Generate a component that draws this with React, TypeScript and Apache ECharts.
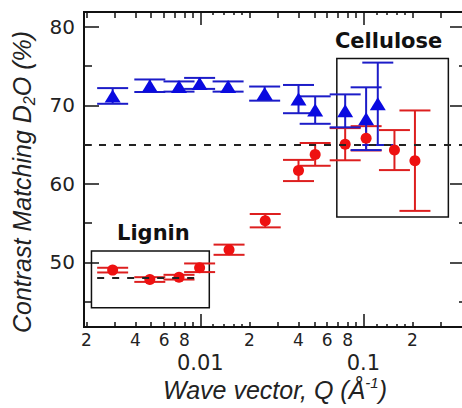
import React, { useEffect, useRef } from "react";
import * as echarts from "echarts";

// ---- data ----
const Q_BLUE = [0.0029, 0.0049, 0.0074, 0.0099, 0.0148, 0.0248, 0.04, 0.0506, 0.0773, 0.1039, 0.1225];
const BLUE_VAL = [71.2, 72.5, 72.4, 72.8, 72.4, 71.5, 70.8, 69.4, 69.3, 68.3, 70.2];
const BLUE_ERR = [1.0, 0.8, 0.65, 0.7, 0.65, 0.9, 1.8, 1.75, 2.1, 4.0, 5.25];

const Q_RED = [0.0029, 0.0049, 0.0074, 0.0099, 0.015, 0.025, 0.04, 0.0506, 0.0773, 0.1039, 0.155, 0.207];
const RED_VAL = [49.0, 47.8, 48.1, 49.3, 51.6, 55.3, 61.7, 63.75, 65.05, 65.8, 64.3, 62.95];
const RED_ERR = [0.3, 0.3, 0.3, 0.55, 0.65, 0.85, 1.35, 1.45, 2.05, 1.55, 2.55, 6.4];

// ---- axis ticks / labels ----
const X_TICKS_NORMAL = [0.002, 0.003, 0.004, 0.005, 0.006, 0.007, 0.008, 0.009, 0.02, 0.03, 0.04, 0.05, 0.06, 0.07, 0.08, 0.09, 0.2, 0.3];
const X_TICKS_SMALL = [0.012, 0.014, 0.016, 0.018, 0.12, 0.14, 0.16, 0.18];
const X_TICKS_MAJOR = [0.01, 0.1];
const X_LABELS_MINOR = [0.002, 0.004, 0.006, 0.008, 0.02, 0.04, 0.06, 0.08, 0.2];
const X_LABELS_MAJOR = [0.01, 0.1];
const Y_MAJOR = [50, 60, 70, 80];
const Y_MINOR = [45, 55, 65, 75];

const X_MIN_Q = 0.001935;
const X_MAX_Q = 0.4197;
const Y_MIN = 41.75;
const Y_MAX = 81.9;

// annotations
const MATCH_LINE = 65;
const LIGNIN_LINE = { q0: 0.00233, q1: 0.00972, y: 48 };
const LIGNIN_BOX = { q0: 0.00215, q1: 0.01135, y0: 44.2, y1: 51.45 };
const CELL_BOX = { q0: 0.0687, q1: 0.3318, y0: 55.77, y1: 75.97 };

const lg = (q: number) => Math.log10(q);
const INK = "#111";

function xAxis(position: string, ticks: number[], len: number, labels?: number[], fmt?: (v: number) => string, margin?: number, fontSize?: number) {
  return {
    type: "value",
    position,
    min: lg(X_MIN_Q),
    max: lg(X_MAX_Q),
    axisLine: { show: true, onZero: false, lineStyle: { color: INK, width: 2 } },
    axisTick: { show: true, inside: true, length: len, customValues: ticks.map(lg), lineStyle: { color: INK, width: 1.5 } },
    axisLabel: labels
      ? { show: true, customValues: labels.map(lg), formatter: fmt, margin, fontSize, color: "#222", fontFamily: "DejaVu Sans" }
      : { show: false },
    splitLine: { show: false },
  };
}

function yAxis(position: string, ticks: number[], len: number, labels?: number[]) {
  return {
    type: "value",
    position,
    min: Y_MIN,
    max: Y_MAX,
    axisLine: { show: true, onZero: false, lineStyle: { color: INK, width: 2 } },
    axisTick: { show: true, inside: true, length: len, customValues: ticks, lineStyle: { color: INK, width: 1.5 } },
    axisLabel: labels
      ? { show: true, customValues: labels, margin: 9, fontSize: 20, color: "#222", fontFamily: "DejaVu Sans" }
      : { show: false },
    splitLine: { show: false },
  };
}

const minorFmt = (v: number) => {
  const e = Math.floor(v + 1e-9);
  return String(Math.round(Math.pow(10, v - e)));
};
const majorFmt = (v: number) => {
  const q = Math.pow(10, v);
  return String(parseFloat(q.toPrecision(2)));
};

function errRender(color: string) {
  return (params: any, api: any) => {
    const x = api.value(0);
    const top = api.coord([x, api.value(2)]);
    const bot = api.coord([x, api.value(1)]);
    const hw = 15.5;
    const style = { stroke: color, lineWidth: 2 };
    return {
      type: "group",
      children: [
        { type: "line", shape: { x1: top[0], y1: top[1], x2: bot[0], y2: bot[1] }, style },
        { type: "line", shape: { x1: top[0] - hw, y1: top[1], x2: top[0] + hw, y2: top[1] }, style },
        { type: "line", shape: { x1: bot[0] - hw, y1: bot[1], x2: bot[0] + hw, y2: bot[1] }, style },
      ],
    };
  };
}

export default function App() {
  const ref = useRef<HTMLDivElement>(null);
  useEffect(() => {
    if (!ref.current) return;
    const chart = echarts.init(ref.current, undefined, { renderer: "svg" });
    const blueErr = Q_BLUE.map((q, i) => [lg(q), BLUE_VAL[i] - BLUE_ERR[i], BLUE_VAL[i] + BLUE_ERR[i]]);
    const redErr = Q_RED.map((q, i) => [lg(q), RED_VAL[i] - RED_ERR[i], RED_VAL[i] + RED_ERR[i]]);
    const blue = Q_BLUE.map((q, i) => [lg(q), BLUE_VAL[i]]);
    const red = Q_RED.map((q, i) => [lg(q), RED_VAL[i]]);

    chart.setOption({
      animation: false,
      backgroundColor: "#fff",
      textStyle: { fontFamily: "Liberation Sans" },
      grid: { left: 84, right: 5, top: 12, bottom: 81, containLabel: false },
      xAxis: [
        xAxis("bottom", X_TICKS_NORMAL, 5, X_LABELS_MINOR, minorFmt, 4, 17),
        xAxis("bottom", X_TICKS_MAJOR, 13, X_LABELS_MAJOR, majorFmt, 25, 21),
        xAxis("bottom", X_TICKS_SMALL, 3),
        xAxis("top", X_TICKS_NORMAL, 6),
        xAxis("top", X_TICKS_MAJOR, 13),
        xAxis("top", X_TICKS_SMALL, 3),
      ],
      yAxis: [
        yAxis("left", Y_MAJOR, 15, Y_MAJOR),
        yAxis("left", Y_MINOR, 8),
        yAxis("right", Y_MAJOR, 15),
        yAxis("right", Y_MINOR, 6),
      ],
      series: [
        {
          type: "custom",
          name: "redErr",
          xAxisIndex: 0,
          yAxisIndex: 0,
          renderItem: errRender("#dd1f1f"),
          encode: { x: 0, y: [1, 2] },
          data: redErr,
          z: 2,
          silent: true,
        },
        {
          type: "custom",
          name: "blueErr",
          xAxisIndex: 0,
          yAxisIndex: 0,
          renderItem: errRender("#1c1cc8"),
          encode: { x: 0, y: [1, 2] },
          data: blueErr,
          z: 3,
          silent: true,
        },
        {
          type: "scatter",
          name: "red",
          xAxisIndex: 0,
          yAxisIndex: 0,
          symbol: "circle",
          symbolSize: 11,
          itemStyle: { color: "#ee1111", opacity: 1 },
          data: red,
          z: 4,
          markArea: {
            silent: true,
            itemStyle: { color: "rgba(0,0,0,0)", borderColor: INK, borderWidth: 1.5 },
            label: { show: true, position: "top", fontSize: 21, fontWeight: "bold", color: INK, fontFamily: "DejaVu Sans" },
            data: [
              [
                { name: "Lignin", xAxis: lg(LIGNIN_BOX.q0), yAxis: LIGNIN_BOX.y1, label: { distance: 7, offset: [3, 0] } },
                { xAxis: lg(LIGNIN_BOX.q1), yAxis: LIGNIN_BOX.y0 },
              ],
              [
                { name: "Cellulose", xAxis: lg(CELL_BOX.q0), yAxis: CELL_BOX.y1, label: { distance: 6, offset: [-4, 0] } },
                { xAxis: lg(CELL_BOX.q1), yAxis: CELL_BOX.y0 },
              ],
            ],
          },
        },
        {
          type: "scatter",
          name: "blue",
          xAxisIndex: 0,
          yAxisIndex: 0,
          symbol: "triangle",
          symbolSize: [16, 13],
          itemStyle: { color: "#0a0ae0", opacity: 1 },
          data: blue,
          z: 5,
          markLine: {
            silent: true,
            symbol: ["none", "none"],
            label: { show: false },
            lineStyle: { type: [7, 8], color: "#222", width: 1.8 },
            data: [
              { yAxis: MATCH_LINE },
              [
                { coord: [lg(LIGNIN_LINE.q0), LIGNIN_LINE.y] },
                { coord: [lg(LIGNIN_LINE.q1), LIGNIN_LINE.y] },
              ],
            ],
          },
        },
      ],
      graphic: [
        {
          type: "text",
          x: 275,
          y: 390,
          style: {
            text: "{a|Wave vector, Q (Å}{s|-1}{a|)}",
            textAlign: "center",
            textVerticalAlign: "middle",
            align: "center",
            verticalAlign: "middle",
            fill: "#222",
            rich: {
              a: { fontSize: 25, fontStyle: "italic", fontFamily: "Liberation Sans", lineHeight: 30, fill: "#222", color: "#222" },
              s: { fontSize: 15, fontStyle: "italic", fontFamily: "Liberation Sans", verticalAlign: "top", lineHeight: 16, fill: "#222", color: "#222" },
            },
          },
        },
        {
          type: "text",
          x: 22,
          y: 182,
          rotation: Math.PI / 2,
          style: {
            text: "{a|Contrast Matching D}{s|2}{a|O (%)}",
            textAlign: "center",
            textVerticalAlign: "middle",
            align: "center",
            verticalAlign: "middle",
            fill: "#222",
            rich: {
              a: { fontSize: 25, fontStyle: "italic", fontFamily: "Liberation Sans", lineHeight: 30, fill: "#222", color: "#222" },
              s: { fontSize: 16, fontStyle: "italic", fontFamily: "Liberation Sans", verticalAlign: "bottom", lineHeight: 17, fill: "#222", color: "#222" },
            },
          },
        },
      ],
    });
    return () => chart.dispose();
  }, []);

  return (
    <div style={{ position: "absolute", left: 0, top: 0, width: 462, height: 408, overflow: "hidden", background: "#fff" }}>
      <div ref={ref} style={{ width: 470, height: 408 }} />
    </div>
  );
}
